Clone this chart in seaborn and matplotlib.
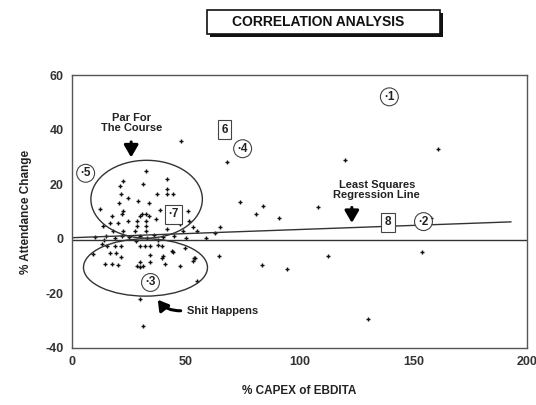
import matplotlib
matplotlib.use("Agg")
import matplotlib.pyplot as plt
import seaborn as sns
import pandas as pd
from matplotlib.patches import Ellipse, Rectangle

# ---- data ----
capex_pct = [32.6, 22.6, 41.6, 21, 31, 41.6, 41.6, 44.4, 37.4, 21.5, 24.6, 20.7, 29, 34,
             12.3, 22.4, 22, 30.8, 30, 32.6, 33.8, 17.6, 37, 38.7, 28.5, 32.6, 24.6, 16.7,
             20, 43, 51, 51.6, 47.5, 28.5, 32.6, 13.6, 18, 22.4, 27.7, 32.6, 41.6, 48.8, 55, 53,
             10, 15, 19, 22, 25, 30, 33, 36, 40, 45, 50, 14, 28, 38, 59, 63, 65,
             13, 15.4, 18.9, 21.5, 9.2, 16.7, 19.3, 21.7, 30, 32, 34.3, 37.8, 39.6, 44, 49.7,
             34.3, 40, 30, 34.3, 14.5, 17.6, 20.2, 28.5, 30, 31.4, 41, 47.5, 53, 39.6, 44.4,
             54, 30, 55, 31,
             48, 74, 84, 81, 91, 108, 120, 161, 112.5, 94.5, 154, 130, 64.6, 83.5, 53.6, 68, 158]
attendance_chg = [25, 21, 22, 19.5, 20, 18.4, 16.5, 16.5, 16.5, 16.5, 15, 13.2, 14, 13.2,
                  11, 10.3, 9.2, 9.2, 8.5, 9.2, 8.5, 8.5, 7.4, 10.7, 6.6, 6.6, 6.6, 5.9,
                  5.9, 6.6, 10.3, 6.6, 5.5, 4.8, 4.8, 4.8, 2.9, 2.9, 2.9, 2.9, 3.7, 2.9, 2.9, 4.4,
                  0.5, 1, 0.3, 1.2, 0.5, 1, 0.2, 1.3, 0.6, 1, 0.3, -0.5, -0.8, -0.6, 0.4, 2.2, 4.4,
                  -1.8, -2.6, -2.6, -2.6, -5.5, -5.3, -5.3, -6.6, -2.8, -2.8, -2.8, -2.2, -2.8, -4.4, -3.3,
                  -5.9, -6.3, -8.5, -8.5, -9.2, -9.2, -9.6, -10, -10.5, -10, -9.2, -10, -8, -7, -4.8,
                  -7, -22, -15.4, -32,
                  36, 13.6, 12, 9, 7.7, 11.8, 28.7, 33, -6.3, -11, -4.7, -29.5, -6.3, -9.5, -7, 28, 7.7]

label_names = ["1", "2", "3", "4", "5", "7", "6", "8"]
label_x = [138, 153, 33, 73.5, 4.5, 43, 67, 139]
label_y = [52, 6.3, -16, 33, 24, 9, 40, 6]
label_shape = ["circle", "circle", "circle", "circle", "circle", "square", "square", "square"]
label_dot = [True, True, True, True, True, True, False, False]

reg_x = [0, 193]
reg_y = [0.4, 6.2]

x_ticks = [0, 50, 100, 150, 200]
y_ticks = [-40, -20, 0, 20, 40, 60]

# ---- figure ----
sns.set_theme(style="white")
plt.rcParams['font.family'] = ['Liberation Sans', 'DejaVu Sans']
W, H = 536, 405
fig = plt.figure(figsize=(W / 100, H / 100), dpi=100)
ax = fig.add_axes([72 / W, 1 - 348 / H, (527 - 72) / W, (348 - 75) / H])

df = pd.DataFrame({"capex": capex_pct, "att": attendance_chg})
sns.scatterplot(data=df, x="capex", y="att", ax=ax, marker="+", s=10,
                color="#111111", linewidth=1.0, legend=False)

for name, lx, ly, shp, dot in zip(label_names, label_x, label_y, label_shape, label_dot):
    txt = ("\u00b7" + name) if dot else name
    style = "circle,pad=0.25" if shp == "circle" else "square,pad=0.3"
    ax.text(lx + (1.5 if dot else 0), ly, txt, ha="center", va="center", fontsize=8.5,
            fontweight="bold", color="#222222",
            bbox=dict(boxstyle=style, fc="white", ec="#444444", lw=0.8))

ax.axhline(-0.4, color="#333333", lw=1.0)
sns.lineplot(x=reg_x, y=reg_y, ax=ax, color="#333333", lw=1.0)

ax.add_patch(Ellipse((32.8, 14.5), 49, 28.5, fill=False, ec="#333333", lw=1.0))
ax.add_patch(Ellipse((32.3, -10.5), 54.5, 21, fill=False, ec="#333333", lw=1.0))

# annotations
ax.text(26, 42.5, "Par For\nThe Course", ha="center", va="center", fontsize=8,
        fontweight="bold", color="#222222", linespacing=1.0)
ax.annotate("", xy=(26, 28.8), xytext=(26, 36.5),
            arrowprops=dict(arrowstyle="-|>,head_width=0.35,head_length=0.6",
                            color="black", lw=2.2))
ax.text(134, 18, "Least Squares\nRegression Line", ha="center", va="center", fontsize=8,
        fontweight="bold", color="#222222", linespacing=1.0)
ax.annotate("", xy=(123, 4.8), xytext=(123, 12.5),
            arrowprops=dict(arrowstyle="-|>,head_width=0.35,head_length=0.6",
                            color="black", lw=2.2))
ax.text(50.5, -26.3, "Shit Happens", ha="left", va="center", fontsize=8,
        fontweight="bold", color="#222222")
ax.annotate("", xy=(37, -21.5), xytext=(49, -26.3),
            arrowprops=dict(arrowstyle="-|>,head_width=0.3,head_length=0.5",
                            color="black", lw=2.2, connectionstyle="arc3,rad=-0.3"))

ax.set_xlim(0, 200)
ax.set_ylim(-40, 60)
ax.set_xticks(x_ticks)
ax.set_yticks(y_ticks)
ax.set_xticklabels([str(t) for t in x_ticks], fontweight="bold", fontsize=9)
ax.set_yticklabels([str(t) for t in y_ticks], fontweight="bold", fontsize=9)
ax.tick_params(direction="in", length=3, width=0.8, colors="#333333", pad=6)
for sp in ax.spines.values():
    sp.set_visible(True)
    sp.set_color("#555555")
    sp.set_linewidth(1.0)
ax.set_xlabel("% CAPEX of EBDITA", fontweight="bold", fontsize=8.5, color="#222222", labelpad=12)
ax.set_ylabel("% Attendance Change", fontweight="bold", fontsize=8.5, color="#222222", labelpad=10)

# title box with shadow
fig.patches.append(Rectangle((210 / W, 1 - 37 / H), 233 / W, 24 / H, transform=fig.transFigure,
                             fc="#111111", ec="none", zorder=1))
fig.patches.append(Rectangle((207 / W, 1 - 34 / H), 233 / W, 24 / H, transform=fig.transFigure,
                             fc="white", ec="#111111", lw=1.2, zorder=2))
fig.text(318 / W, 1 - 22 / H, "CORRELATION ANALYSIS", ha="center", va="center",
         fontsize=10, fontweight="bold", color="#111111", zorder=3)

fig.savefig("out.png", dpi=100, facecolor="white")
